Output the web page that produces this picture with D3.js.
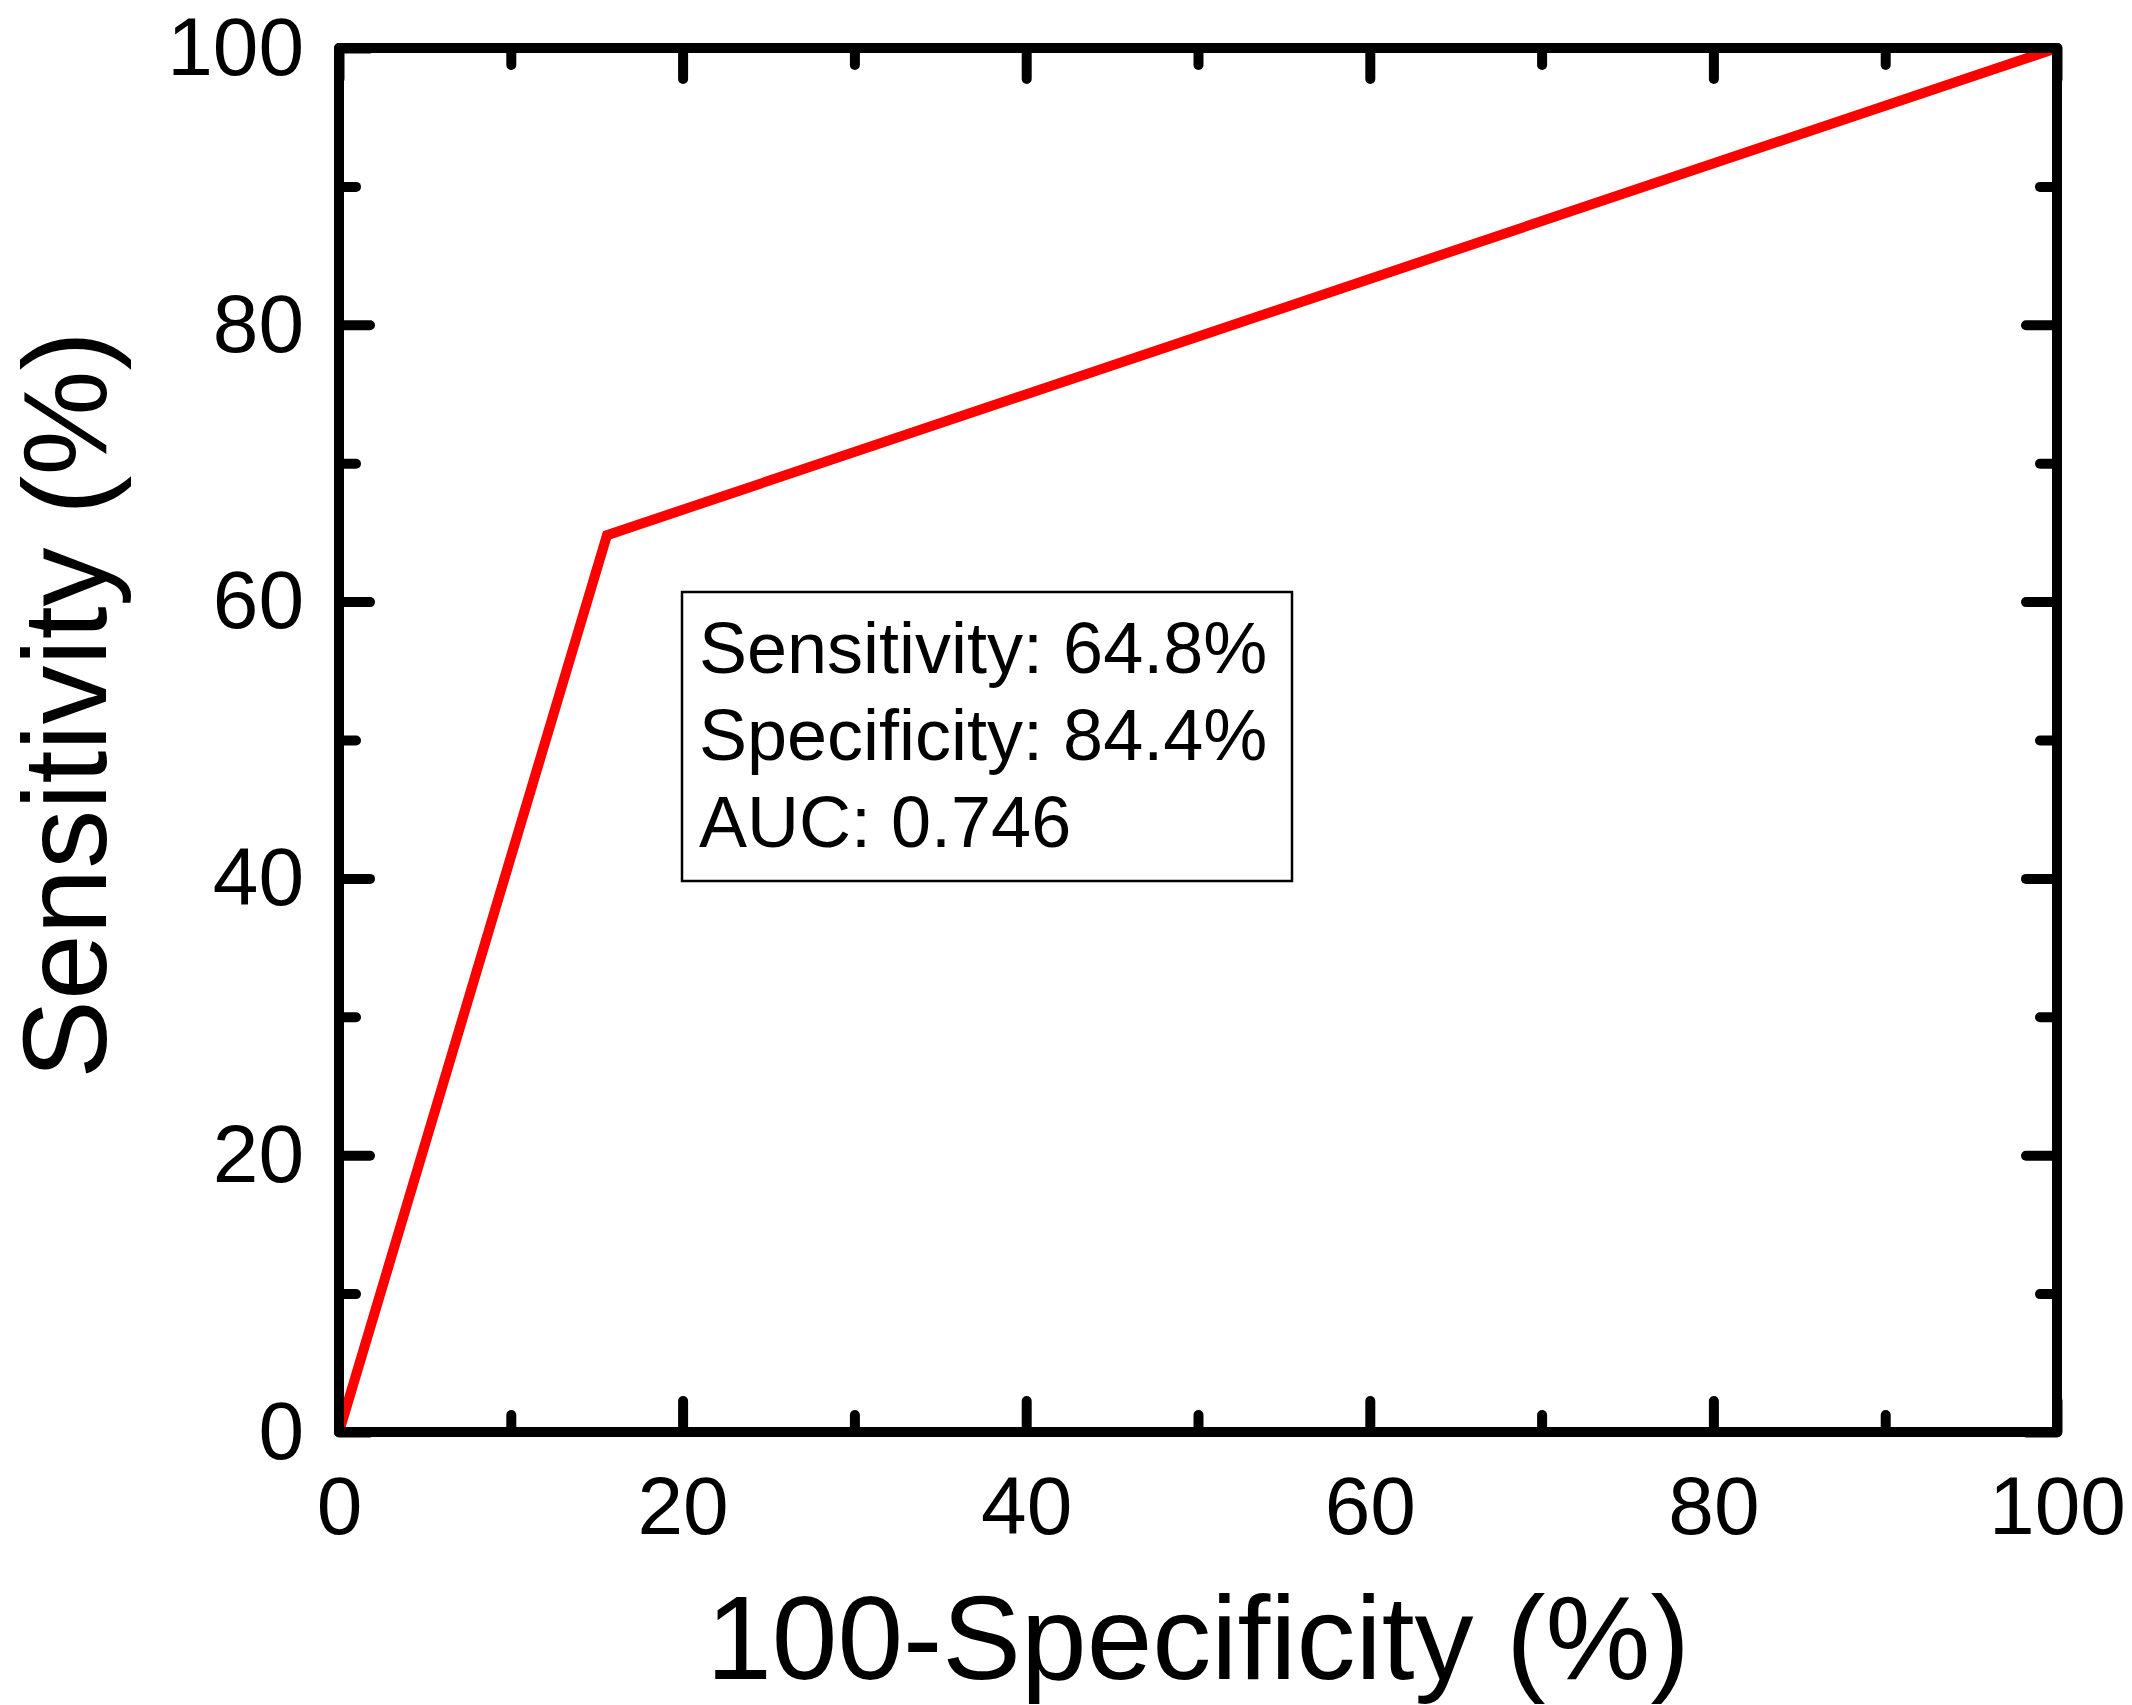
<!DOCTYPE html>
<html lang="en">
<head>
    <meta charset="UTF-8">
    <title>ROC Curve</title>
    <script src="https://d3js.org/d3.v7.min.js"></script>
    <style>
        body {
            margin: 0;
            background: #fff;
        }
        svg {
            display: block;
            font-family: "Liberation Sans", Arial, sans-serif;
        }
        .tick text {
            fill: #000;
        }
    </style>
</head>
<body>
    <svg id="chart"></svg>

    <script>
        // ROC points (100-specificity, sensitivity)
        const fpr = [0, 15.6, 100];
        const tpr = [0, 64.8, 100];

        const majorTicks = [0, 20, 40, 60, 80, 100];
        const minorTicks = [10, 30, 50, 70, 90];

        const statLines = ["Sensitivity: 64.8%", "Specificity: 84.4%", "AUC: 0.746"];

        const width = 2132;
        const height = 1705;
        const margin = { left: 339, right: 75, top: 48, bottom: 273 };

        const svg = d3.select("#chart")
            .attr("width", width)
            .attr("height", height);

        const x = d3.scaleLinear().domain([0, 100]).range([margin.left, width - margin.right]);
        const y = d3.scaleLinear().domain([0, 100]).range([height - margin.bottom, margin.top]);

        const [x0, x1] = x.range();
        const [y0, y1] = y.range();

        // Axes with inward ticks on all four sides
        function styleAxis(g) {
            g.select(".domain").remove();
            g.selectAll(".tick line")
                .attr("stroke", "#000")
                .attr("stroke-width", 10)
                .attr("stroke-linecap", "round");
        }

        const major = 31, minor = 17;

        svg.append("g")
            .attr("transform", `translate(0,${y0})`)
            .call(d3.axisBottom(x).tickValues(majorTicks).tickSize(-major).tickPadding(44).tickFormat(d3.format("d")))
            .call(styleAxis)
            .selectAll("text").attr("font-size", 82).attr("font-family", "Liberation Sans");

        svg.append("g")
            .attr("transform", `translate(0,${y0})`)
            .call(d3.axisBottom(x).tickValues(minorTicks).tickSize(-minor).tickFormat(""))
            .call(styleAxis);

        svg.append("g")
            .attr("transform", `translate(0,${y1})`)
            .call(d3.axisTop(x).tickValues(majorTicks).tickSize(-major).tickFormat(""))
            .call(styleAxis);

        svg.append("g")
            .attr("transform", `translate(0,${y1})`)
            .call(d3.axisTop(x).tickValues(minorTicks).tickSize(-minor).tickFormat(""))
            .call(styleAxis);

        svg.append("g")
            .attr("transform", `translate(${x0},0)`)
            .call(d3.axisLeft(y).tickValues(majorTicks).tickSize(-major).tickPadding(35).tickFormat(d3.format("d")))
            .call(styleAxis)
            .selectAll("text").attr("font-size", 82).attr("font-family", "Liberation Sans");

        svg.append("g")
            .attr("transform", `translate(${x0},0)`)
            .call(d3.axisLeft(y).tickValues(minorTicks).tickSize(-minor).tickFormat(""))
            .call(styleAxis);

        svg.append("g")
            .attr("transform", `translate(${x1},0)`)
            .call(d3.axisRight(y).tickValues(majorTicks).tickSize(-major).tickFormat(""))
            .call(styleAxis);

        svg.append("g")
            .attr("transform", `translate(${x1},0)`)
            .call(d3.axisRight(y).tickValues(minorTicks).tickSize(-minor).tickFormat(""))
            .call(styleAxis);

        // ROC line
        const line = d3.line()
            .x((d, i) => x(fpr[i]))
            .y(d => y(d));

        svg.append("path")
            .datum(tpr)
            .attr("fill", "none")
            .attr("stroke", "#ff0000")
            .attr("stroke-width", 10)
            .attr("d", line);

        // Plot frame
        svg.append("rect")
            .attr("x", x0)
            .attr("y", y1)
            .attr("width", x1 - x0)
            .attr("height", y0 - y1)
            .attr("fill", "none")
            .attr("stroke", "#000")
            .attr("stroke-width", 10)
            .attr("stroke-linejoin", "round");

        // Stats box
        const box = svg.append("g");
        box.append("rect")
            .attr("x", 682)
            .attr("y", 592)
            .attr("width", 610)
            .attr("height", 289)
            .attr("fill", "#fff")
            .attr("stroke", "#000")
            .attr("stroke-width", 2.5);

        box.selectAll("text")
            .data(statLines)
            .enter().append("text")
            .attr("x", 699)
            .attr("y", (d, i) => 673 + i * 87)
            .attr("font-size", 72)
            .attr("fill", "#000")
            .text(d => d);

        // Axis titles
        svg.append("text")
            .attr("x", (x0 + x1) / 2)
            .attr("y", 1679)
            .attr("text-anchor", "middle")
            .attr("font-size", 118)
            .text("100-Specificity (%)");

        svg.append("text")
            .attr("transform", "translate(106,705) rotate(-90)")
            .attr("text-anchor", "middle")
            .attr("font-size", 118)
            .text("Sensitivity (%)");
    </script>
</body>
</html>
